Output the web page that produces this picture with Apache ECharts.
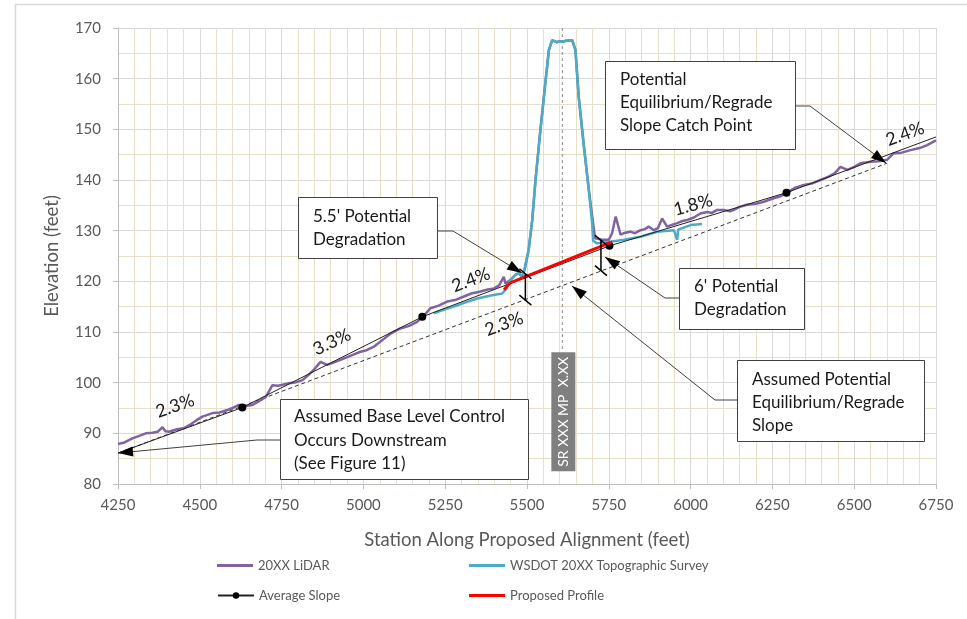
<!DOCTYPE html>
<html><head><meta charset="utf-8">
<script src="https://cdn.jsdelivr.net/npm/echarts@6/dist/echarts.min.js"></script>
<style>html,body{margin:0;padding:0;background:#fff}#c{width:967px;height:619px}</style>
</head><body><div id="c"></div>
<script>
// ---------- data ----------
const lidarStation = [4250,4270,4294,4315,4335,4355,4371,4386,4395,4406,4430,4450,4468,4490,4508,4539,4560,4585,4600,4620,4640,4661,4680,4702,4722,4740,4773,4795,4814,4830,4848,4869,4889,4910,4930,4960,4991,5010,5032,5060,5083,5113,5140,5164,5185,5205,5230,5256,5280,5307,5330,5358,5380,5399,5415,5429,5434,5450,5465,5475,5485,5492,5505,5516,5526,5541,5557,5567,5577,5590,5600,5608,5620,5638,5648,5658,5674,5689,5702,5708,5730,5750,5760,5771,5786,5800,5816,5830,5847,5860,5872,5888,5900,5913,5928,5945,5959,5975,5990,6010,6030,6051,6065,6081,6102,6120,6132,6150,6173,6200,6224,6254,6275,6295,6320,6346,6370,6397,6420,6440,6458,6479,6500,6519,6550,6575,6601,6621,6645,6672,6700,6723,6750];
const lidarElev = [87.9,88.2,89.0,89.5,90.0,90.1,90.3,91.2,90.4,90.3,90.8,91.0,91.6,92.6,93.3,94.0,94.1,94.6,95.0,95.6,95.4,95.6,96.3,97.2,99.5,99.4,99.9,100.1,100.5,101.4,102.5,104.1,103.5,104.0,104.5,105.3,106.1,106.4,107.1,108.5,109.7,110.7,111.2,112.0,113.2,114.7,115.2,116.0,116.3,117.0,117.6,118.0,118.4,118.6,119.2,120.9,119.6,120.3,121.3,121.6,120.9,122.2,126.2,132.1,140.0,149.9,159.7,165.7,167.6,167.2,167.4,167.3,167.5,167.6,165.7,156.4,146.6,138.0,131.5,128.5,128.2,128.2,129.5,132.8,129.2,129.6,129.8,129.5,130.1,130.3,130.8,130.1,130.5,132.4,130.8,131.2,131.5,131.9,132.1,132.6,133.4,133.7,133.5,134.1,134.1,133.8,134.1,134.7,135.1,135.3,135.7,136.4,136.8,137.5,138.5,139.0,139.3,140.0,140.6,141.3,142.6,142.0,142.6,143.3,143.6,143.7,144.0,145.3,145.4,145.9,146.3,146.9,147.8];

const surveyStation = [5215,5245,5276,5310,5348,5390,5424,5437,5450,5465,5475,5485,5492,5505,5516,5526,5541,5557,5567,5577,5590,5600,5608,5620,5638,5648,5658,5674,5689,5699,5702,5714,5755,5796,5847,5898,5949,5955,5959,5962,6000,6035];
const surveyElev = [113.7,114.4,115.0,115.8,116.6,117.2,117.6,118.5,120.3,121.3,121.6,120.9,122.2,126.2,132.1,140.0,149.9,159.7,165.7,167.6,167.2,167.4,167.3,167.5,167.6,165.7,156.4,146.6,138.0,131.5,128.0,127.5,127.8,128.2,128.8,129.8,130.1,129.8,128.2,130.2,131.1,131.3];

const avgStation = [4250,4630,5180,5752,6293,6750];
const avgElev = [86.1,95.1,113.0,127.0,137.5,148.5];

const profileStation = [5430,5440,5452,5760];
const profileElev = [118.3,119.2,119.8,127.8];

const regradeStation = [4250,6600];
const regradeElev = [86.1,143.3];

const mpStation = 5608;
const mpElevRange = [170,106];
const mpLabel = 'SR XXX MP  X.XX';

// degradation markers: station, top elev, bottom elev
const degradeStation = [5495,5726];
const degradeTop = [121.5,128.1];
const degradeBottom = [116.3,122.1];

const slopeLabels = ['2.3%','3.3%','2.4%','2.3%','1.8%','2.4%'];
const xTickInterval = 250, yTickInterval = 10;
const yTitle = 'Elevation (feet)';

// ---------- chart ----------
const FONT = 'Lato, "Liberation Sans", sans-serif';
const zip = (a,b)=>a.map((v,i)=>[v,b[i]]);
const chart = echarts.init(document.getElementById('c'), null, {renderer:'canvas'});

const avgData = zip(avgStation, avgElev).map((p,i,arr)=>
  (i===0||i===arr.length-1)?{value:p,symbol:'none'}:{value:p});

const legendText = {fontFamily:FONT,fontSize:13,color:'#595959'};
function lineLegend(name,left,top){
  return {data:[name],left,top,padding:0,itemWidth:36,itemHeight:3,icon:'rect',textStyle:legendText};
}

chart.setOption({
  animation:false,
  backgroundColor:'#fff',
  grid:{left:118,right:31,top:28,bottom:135,containLabel:false},
  xAxis:{type:'value',min:4250,max:6750,interval:xTickInterval,
    name:'Station Along Proposed Alignment (feet)',nameLocation:'middle',nameGap:47,
    nameTextStyle:{fontFamily:FONT,fontSize:18.5,color:'#595959'},
    axisLine:{show:true,onZero:false,lineStyle:{color:'#bfbfbf',width:1}},
    axisTick:{show:true,length:5,lineStyle:{color:'#bfbfbf'}},
    axisLabel:{fontFamily:FONT,fontSize:15,color:'#595959',margin:14,formatter:v=>String(v)},
    splitLine:{show:true,lineStyle:{color:'#d9d9d9',width:1}},
    minorTick:{show:false,splitNumber:5},
    minorSplitLine:{show:true,lineStyle:{color:'#e7e0c9',width:1}}},
  yAxis:{type:'value',min:80,max:170,interval:yTickInterval,
    axisLine:{show:true,lineStyle:{color:'#bfbfbf',width:1}},
    axisTick:{show:true,length:5,lineStyle:{color:'#bfbfbf'}},
    axisLabel:{fontFamily:FONT,fontSize:15,color:'#595959',margin:17},
    splitLine:{show:true,lineStyle:{color:'#d9d9d9',width:1}},
    minorTick:{show:false,splitNumber:2},
    minorSplitLine:{show:true,lineStyle:{color:'#e7e0c9',width:1}}},
  legend:[
    lineLegend('20XX LiDAR',217,559),
    lineLegend('WSDOT 20XX Topographic Survey',469,559),
    lineLegend('Proposed Profile',469,589),
    {data:['Average Slope'],left:217,top:589,padding:0,itemWidth:36,itemHeight:8,textStyle:legendText}
  ],
  series:[
    {name:'Regrade',type:'line',data:zip(regradeStation,regradeElev),symbol:'none',silent:true,
     lineStyle:{color:'#333',width:1,type:[4,3]},z:2},
    {name:'MP',type:'line',data:mpElevRange.map(v=>[mpStation,v]),symbol:'none',silent:true,
     lineStyle:{color:'#8c8c8c',width:1,type:[3,3]},z:2},
    {name:'20XX LiDAR',type:'line',data:zip(lidarStation,lidarElev),symbol:'none',
     lineStyle:{color:'#8064a2',width:2.5},itemStyle:{color:'#8064a2'},z:3},
    {name:'WSDOT 20XX Topographic Survey',type:'line',data:zip(surveyStation,surveyElev),symbol:'none',
     lineStyle:{color:'#4bacc6',width:2.5},itemStyle:{color:'#4bacc6'},z:4},
    {name:'Average Slope',type:'line',data:avgData,symbol:'circle',symbolSize:8,
     lineStyle:{color:'#222',width:1},itemStyle:{color:'#000'},z:5},
    {name:'Proposed Profile',type:'line',data:zip(profileStation,profileElev),symbol:'none',
     lineStyle:{color:'#ff0000',width:3},itemStyle:{color:'#ff0000'},z:6}
  ]
});

// ---------- annotations ----------
const g = [];
const px = (x,y)=>chart.convertToPixel({gridIndex:0},[x,y]);
g.push({type:'rect',shape:{x:15.5,y:4.5,width:1000,height:700},style:{fill:null,stroke:'#d9d9d9',lineWidth:1.5},silent:true,z:0});
// y-axis title
g.push({type:'text',x:52,y:256,rotation:Math.PI/2,
  style:{text:yTitle,fontFamily:FONT,fontSize:18.5,fill:'#595959',align:'center',verticalAlign:'middle'},z:10});

function arrowHead(from, tip){
  const dx=tip[0]-from[0], dy=tip[1]-from[1], L=Math.hypot(dx,dy), ux=dx/L, uy=dy/L;
  const len=15, w=5, b=[tip[0]-ux*len, tip[1]-uy*len];
  return {type:'polygon',shape:{points:[tip,[b[0]-uy*w,b[1]+ux*w],[b[0]+uy*w,b[1]-ux*w]]},style:{fill:'#000'},z:50};
}
function callout(box, lines, textX, lineYs, path){
  g.push({type:'polyline',shape:{points:path},style:{stroke:'#404040',lineWidth:1,fill:null},z:40});
  g.push(arrowHead(path[path.length-2], path[path.length-1]));
  g.push({type:'rect',shape:{x:box[0]+0.5,y:box[1]+0.5,width:box[2],height:box[3]},style:{fill:'#fff',stroke:'#404040',lineWidth:1},z:45});
  lines.forEach((t,i)=>g.push({type:'text',x:textX,y:lineYs[i],style:{text:t,fontFamily:FONT,fontSize:17,fill:'#1a1a1a',verticalAlign:'middle',align:'left'},z:46}));
}
callout([298,197,139,61],["5.5' Potential","Degradation"],313,[217,240],[[437,231],[453,231],[522,273]]);
callout([605,61,190,88],["Potential","Equilibrium/Regrade","Slope Catch Point"],620,[80,103,126],[[795,106],[810,106],[886,163]]);
callout([679,268,125,61],["6' Potential","Degradation"],694,[287,310],[[679,298],[665,298],[605,257]]);
callout([737,360,187,81],["Assumed Potential","Equilibrium/Regrade","Slope"],752,[380,403,426],[[737,400],[715,400],[572,286]]);
callout([280,399,248,80],["Assumed Base Level Control","Occurs Downstream","(See Figure 11)"],294,[417,441,464],[[280,440],[257,440],[118,453]]);

degradeStation.forEach((s,i)=>{
  const t=px(s,degradeTop[i]), b=px(s,degradeBottom[i]);
  g.push({type:'line',shape:{x1:t[0],y1:t[1],x2:b[0],y2:b[1]},style:{stroke:'#000',lineWidth:1.5},z:30});
  [t,b].forEach(p=>g.push({type:'line',shape:{x1:p[0]-6,y1:p[1]-5,x2:p[0]+6,y2:p[1]+5},style:{stroke:'#000',lineWidth:1.5},z:30}));
});

{
  const top = px(mpStation, mpElevRange[1]);
  g.push({type:'rect',shape:{x:top[0]-11,y:top[1],width:24,height:119},style:{fill:'#7f7f7f'},z:20});
  g.push({type:'text',x:top[0]+1,y:top[1]+59.5,rotation:Math.PI/2,
    style:{text:mpLabel,fontFamily:FONT,fontSize:14,fill:'#fff',align:'center',verticalAlign:'middle'},z:21});
}

const slopePos = [[175,406,19],[332,342,25],[471,280,21],[504,324,20],[693,205,15],[905,134,20]];
slopeLabels.forEach((t,i)=>{
  const p=slopePos[i];
  g.push({type:'text',x:p[0],y:p[1],rotation:p[2]*Math.PI/180,
    style:{text:t,fontFamily:FONT,fontSize:18,fill:'#1a1a1a',align:'center',verticalAlign:'middle'},z:35});
});

chart.setOption({graphic:g});
</script></body></html>
